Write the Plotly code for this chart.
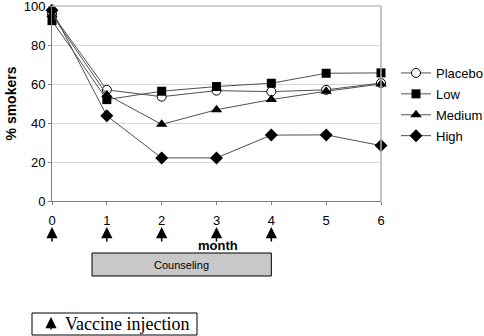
import plotly.graph_objects as go

months = [0, 1, 2, 3, 4, 5, 6]
placebo = [96, 57, 53.5, 56.6, 56.1, 57, 60.5]
low = [92.5, 52, 56.3, 58.7, 60.4, 65.5, 65.7]
medium = [95.5, 54.5, 39.3, 46.8, 52, 56.3, 60]
high = [97.8, 43.7, 22.1, 22.1, 33.8, 33.9, 28.4]
injection_months = [0, 1, 2, 3, 4]
counsel_start, counsel_end = 0.73, 4.0
y_ticks = [0, 20, 40, 60, 80, 100]

L, R, T, B = 52, 103, 6, 135
W, H = 484, 336
pw, ph = W - L - R, H - T - B

def py(pix):  # pixel y -> paper y
    return (H - B - pix) / ph

def px(pix):
    return (pix - L) / pw

FONT = "Liberation Sans, Arial, sans-serif"
fig = go.Figure()
series = [
    ("Placebo", placebo, dict(symbol="circle", color="white", size=9, line=dict(color="black", width=1))),
    ("Low", low, dict(symbol="square", color="black", size=9, line=dict(color="black", width=0))),
    ("Medium", medium, dict(symbol="triangle-up", color="black", size=10, line=dict(color="black", width=0))),
    ("High", high, dict(symbol="diamond", color="black", size=10, line=dict(color="black", width=0))),
]
for name, vals, mk in series:
    fig.add_trace(go.Scatter(x=months, y=vals, name=name, legendgroup=name, mode="lines+markers",
                             cliponaxis=False, line=dict(color="#505050", width=1), marker=mk))

fig.update_xaxes(range=[0, 6], tickvals=months, showgrid=False, zeroline=False, automargin=False,
                 showline=True, linecolor="#808080", linewidth=1, ticks="outside",
                 ticklen=3, tickcolor="#808080", tickfont=dict(family=FONT, size=13, color="black"),
                 ticklabelstandoff=4, mirror=False)
fig.update_yaxes(range=[0, 100], tickvals=y_ticks, showgrid=True, gridcolor="#d9d9d9",
                 zeroline=False, showline=True, linecolor="#808080", linewidth=1, automargin=False,
                 ticks="outside", ticklen=3, tickcolor="#808080", ticklabeloverflow="allow",
                 tickfont=dict(family=FONT, size=13, color="black"),
                 title=dict(text="<b>% smokers</b>", font=dict(family=FONT, size=14, color="black"), standoff=3))

# top and right border of plot area
fig.add_shape(type="line", xref="paper", yref="paper", x0=0, x1=1, y0=1, y1=1, line=dict(color="#c0c0c0", width=1.5))
fig.add_shape(type="line", xref="paper", yref="paper", x0=1, x1=1, y0=0, y1=1, line=dict(color="#b0b0b0", width=1.5))

annotations = []
for m in injection_months:
    annotations.append(dict(x=m, y=py(227), xref="x", yref="paper", ax=0, ay=16,
                            showarrow=True, arrowhead=2, arrowsize=1.5, arrowwidth=1.5,
                            arrowcolor="black", text=""))
annotations.append(dict(x=3.03, y=py(245), xref="x", yref="paper", text="<b>month</b>",
                        xanchor="center", yanchor="middle",
                        showarrow=False, font=dict(family=FONT, size=13, color="black")))

fig.add_shape(type="rect", xref="x", yref="paper", x0=counsel_start, x1=counsel_end,
              y0=py(276), y1=py(253), fillcolor="#c8c8c8", line=dict(color="black", width=1))
annotations.append(dict(x=(counsel_start + counsel_end) / 2, y=py(264.5), xref="x", yref="paper",
                        xanchor="center", yanchor="middle",
                        text="Counseling", showarrow=False, font=dict(family=FONT, size=11, color="black")))

fig.add_shape(type="rect", xref="paper", yref="paper", x0=px(32), x1=px(197),
              y0=py(335), y1=py(313), fillcolor="white", line=dict(color="black", width=1))
annotations.append(dict(x=px(51), y=py(317), xref="paper", yref="paper", ax=0, ay=14,
                        showarrow=True, arrowhead=2, arrowsize=1.5, arrowwidth=1.5,
                        arrowcolor="black", text=""))
annotations.append(dict(x=px(63), y=py(324), xref="paper", yref="paper", xanchor="left", yanchor="middle",
                        text="Vaccine injection", showarrow=False,
                        font=dict(family="Liberation Serif, Times New Roman, serif", size=18, color="black")))

fig.update_layout(width=W, height=H, margin=dict(l=L, r=R, t=T, b=B, autoexpand=False),
                  plot_bgcolor="white", paper_bgcolor="white",
                  annotations=annotations,
                  legend=dict(x=px(396), y=py(58), xanchor="left", yanchor="top",
                              font=dict(family=FONT, size=13, color="black"),
                              bgcolor="rgba(0,0,0,0)", tracegroupgap=1))
fig.write_html("out.html")
